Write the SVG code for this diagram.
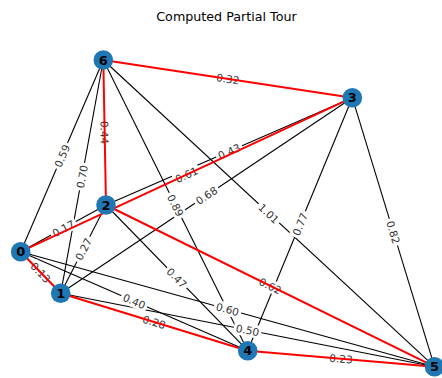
<svg xmlns="http://www.w3.org/2000/svg" width="442" height="378" viewBox="0 0 442 378">
<style>
.e{stroke:#000;stroke-width:1.1;fill:none}
.t{stroke:#ff0000;stroke-width:2;fill:none}
.lb rect{fill:#fff;stroke:none}
.lb text{font-family:"DejaVu Sans",sans-serif;font-size:10.5px;fill:#333;text-anchor:middle;dominant-baseline:central}
.n circle{fill:#1f78b4}
.n text{font-family:"DejaVu Sans",sans-serif;font-size:13px;font-weight:bold;fill:#000;text-anchor:middle;dominant-baseline:central}
.title{font-family:"DejaVu Sans",sans-serif;font-size:12.7px;fill:#000;text-anchor:middle}
</style>
<rect width="442" height="378" fill="#fff"/>
<text class="title" x="226.5" y="20.5">Computed Partial Tour</text>
<g id="connectors">
<g id="edges">
<line class="e" x1="20.7" y1="251.7" x2="106" y2="205"/>
<line class="e" x1="20.7" y1="251.7" x2="247.7" y2="350.7"/>
<line class="e" x1="20.7" y1="251.7" x2="434.5" y2="366.7"/>
<line class="e" x1="20.7" y1="251.7" x2="103.3" y2="60"/>
<line class="e" x1="60.7" y1="293.3" x2="106" y2="205"/>
<line class="e" x1="60.7" y1="293.3" x2="352.3" y2="97.7"/>
<line class="e" x1="60.7" y1="293.3" x2="434.5" y2="366.7"/>
<line class="e" x1="60.7" y1="293.3" x2="103.3" y2="60"/>
<line class="e" x1="106" y1="205" x2="352.3" y2="97.7"/>
<line class="e" x1="106" y1="205" x2="247.7" y2="350.7"/>
<line class="e" x1="352.3" y1="97.7" x2="247.7" y2="350.7"/>
<line class="e" x1="352.3" y1="97.7" x2="434.5" y2="366.7"/>
<line class="e" x1="247.7" y1="350.7" x2="103.3" y2="60"/>
<line class="e" x1="434.5" y1="366.7" x2="103.3" y2="60"/>
</g>
<g id="edge-labels" class="lb">
<g transform="translate(40.7,272.5) rotate(46.1)"><rect x="-14" y="-6.5" width="28" height="13" rx="3"/><text>0.13</text></g>
<g transform="translate(63.35,228.35) rotate(-28.7)"><rect x="-14" y="-6.5" width="28" height="13" rx="3"/><text>0.17</text></g>
<g transform="translate(186.5,174.7) rotate(-24.9)"><rect x="-14" y="-6.5" width="28" height="13" rx="3"/><text>0.61</text></g>
<g transform="translate(134.2,301.2) rotate(23.6)"><rect x="-14" y="-6.5" width="28" height="13" rx="3"/><text>0.40</text></g>
<g transform="translate(227.6,309.2) rotate(15.5)"><rect x="-14" y="-6.5" width="28" height="13" rx="3"/><text>0.60</text></g>
<g transform="translate(62,155.85) rotate(-66.7)"><rect x="-14" y="-6.5" width="28" height="13" rx="3"/><text>0.59</text></g>
<g transform="translate(83.35,249.15) rotate(-62.8)"><rect x="-14" y="-6.5" width="28" height="13" rx="3"/><text>0.27</text></g>
<g transform="translate(206.5,195.5) rotate(-33.9)"><rect x="-14" y="-6.5" width="28" height="13" rx="3"/><text>0.68</text></g>
<g transform="translate(154.2,322) rotate(17.1)"><rect x="-14" y="-6.5" width="28" height="13" rx="3"/><text>0.28</text></g>
<g transform="translate(247.6,330) rotate(11.1)"><rect x="-14" y="-6.5" width="28" height="13" rx="3"/><text>0.50</text></g>
<g transform="translate(82,176.65) rotate(-79.7)"><rect x="-14" y="-6.5" width="28" height="13" rx="3"/><text>0.70</text></g>
<g transform="translate(229.15,151.35) rotate(-23.5)"><rect x="-14" y="-6.5" width="28" height="13" rx="3"/><text>0.43</text></g>
<g transform="translate(176.85,277.85) rotate(45.8)"><rect x="-14" y="-6.5" width="28" height="13" rx="3"/><text>0.47</text></g>
<g transform="translate(270.25,285.85) rotate(26.2)"><rect x="-14" y="-6.5" width="28" height="13" rx="3"/><text>0.62</text></g>
<g transform="translate(104.65,132.5) rotate(88.9)"><rect x="-14" y="-6.5" width="28" height="13" rx="3"/><text>0.44</text></g>
<g transform="translate(300,224.2) rotate(-67.5)"><rect x="-14" y="-6.5" width="28" height="13" rx="3"/><text>0.77</text></g>
<g transform="translate(393.4,232.2) rotate(73)"><rect x="-14" y="-6.5" width="28" height="13" rx="3"/><text>0.82</text></g>
<g transform="translate(227.8,78.85) rotate(8.6)"><rect x="-14" y="-6.5" width="28" height="13" rx="3"/><text>0.32</text></g>
<g transform="translate(341.1,358.7) rotate(4.9)"><rect x="-14" y="-6.5" width="28" height="13" rx="3"/><text>0.23</text></g>
<g transform="translate(175.5,205.35) rotate(63.6)"><rect x="-14" y="-6.5" width="28" height="13" rx="3"/><text>0.89</text></g>
<g transform="translate(268.9,213.35) rotate(42.8)"><rect x="-14" y="-6.5" width="28" height="13" rx="3"/><text>1.01</text></g>
</g>
<g id="tour">
<line class="t" x1="20.7" y1="251.7" x2="60.7" y2="293.3"/>
<line class="t" x1="60.7" y1="293.3" x2="247.7" y2="350.7"/>
<line class="t" x1="247.7" y1="350.7" x2="434.5" y2="366.7"/>
<line class="t" x1="434.5" y1="366.7" x2="106" y2="205"/>
<line class="t" x1="106" y1="205" x2="103.3" y2="60"/>
<line class="t" x1="103.3" y1="60" x2="352.3" y2="97.7"/>
<line class="t" x1="352.3" y1="97.7" x2="20.7" y2="251.7"/>
</g>
</g>
<g id="node0" class="n"><circle cx="20.7" cy="251.7" r="9.8"/><text x="20.7" y="251.7">0</text></g>
<g id="node1" class="n"><circle cx="60.7" cy="293.3" r="9.8"/><text x="60.7" y="293.3">1</text></g>
<g id="node2" class="n"><circle cx="106" cy="205" r="9.8"/><text x="106" y="205">2</text></g>
<g id="node3" class="n"><circle cx="352.3" cy="97.7" r="9.8"/><text x="352.3" y="97.7">3</text></g>
<g id="node4" class="n"><circle cx="247.7" cy="350.7" r="9.8"/><text x="247.7" y="350.7">4</text></g>
<g id="node5" class="n"><circle cx="434.5" cy="366.7" r="9.8"/><text x="434.5" y="366.7">5</text></g>
<g id="node6" class="n"><circle cx="103.3" cy="60" r="9.8"/><text x="103.3" y="60">6</text></g>
</svg>
